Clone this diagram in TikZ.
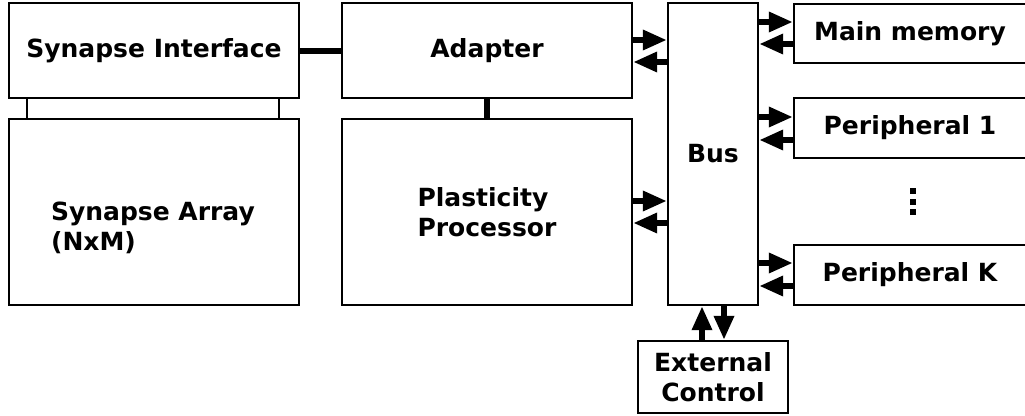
\documentclass[tikz,border=0pt]{standalone}
\usepackage{fontspec}
\setmainfont{DejaVu Sans}
\usetikzlibrary{arrows.meta}
\begin{document}
\begin{tikzpicture}[x=1pt,y=-1pt,
  box/.style={draw, line width=2.2pt, inner sep=0pt, align=left,
    font=\bfseries\fontsize{25}{29.5}\selectfont},
  txt/.style={inner sep=0pt, align=left, font=\bfseries\fontsize{25}{29.5}\selectfont},
  link/.style={line width=6pt},
  thin/.style={line width=2.2pt},
  arr/.style={line width=6.5pt, -{Triangle[length=24pt,width=19pt]}},
  dot/.style={fill=black, minimum size=6pt, inner sep=0pt}]
\useasboundingbox (0,0) rectangle (1025,415);

% left column
\node[box, minimum width=290pt, minimum height=95pt] (si) at (154,50.5) {Synapse Interface};
\node[box, minimum width=290pt, minimum height=186pt] (sa) at (154,212) {};
\node[txt] (satext) at (153,228) {Synapse Array\\(NxM)};

% middle column
\node[box, minimum width=290pt, minimum height=95pt] (ad) at (487,50.5) {Adapter};
\node[box, minimum width=290pt, minimum height=186pt] (pp) at (487,212) {Plasticity\\Processor};

% bus
\node[box, minimum width=90pt, minimum height=302pt] (bus) at (713,154) {Bus};

% right column
\node[box, minimum width=232pt, minimum height=59pt] (mm) at (910,33.5) {Main memory};
\node[box, minimum width=232pt, minimum height=60pt] (p1) at (910,128) {Peripheral 1};
\node[box, minimum width=232pt, minimum height=60pt] (pk) at (910,275) {Peripheral K};
\node[dot] (d1) at (913,191) {};
\node[dot] (d2) at (913,202) {};
\node[dot] (d3) at (913,212) {};

% external control
\node[box, minimum width=150pt, minimum height=72pt, align=center] (ec) at (713,377) {External\\Control};

% plain links
\draw[link] (si.east) -- (ad.west);
\draw[link] (ad.south) -- (pp.north);
\draw[thin] ([xshift=19pt]si.south west) -- ([xshift=19pt]sa.north west);
\draw[thin] ([xshift=-21pt]si.south east) -- ([xshift=-21pt]sa.north east);

% adapter <-> bus
\coordinate (a1) at ([yshift=10.5pt]ad.east);
\coordinate (a2) at ([yshift=-11.5pt]ad.east);
\draw[arr] (a1) -- (a1 -| bus.west);
\draw[arr] (a2 -| bus.west) -- (a2);

% plasticity processor <-> bus
\coordinate (b1) at ([yshift=11pt]pp.east);
\coordinate (b2) at ([yshift=-11pt]pp.east);
\draw[arr] (b1) -- (b1 -| bus.west);
\draw[arr] (b2 -| bus.west) -- (b2);

% bus <-> memory and peripherals
\coordinate (m1) at ([yshift=11.5pt]mm.west);
\coordinate (m2) at ([yshift=-10.5pt]mm.west);
\draw[arr] (m1 -| bus.east) -- (m1);
\draw[arr] (m2) -- (m2 -| bus.east);

\coordinate (q1) at ([yshift=11pt]p1.west);
\coordinate (q2) at ([yshift=-12pt]p1.west);
\draw[arr] (q1 -| bus.east) -- (q1);
\draw[arr] (q2) -- (q2 -| bus.east);

\coordinate (k1) at ([yshift=12pt]pk.west);
\coordinate (k2) at ([yshift=-11pt]pk.west);
\draw[arr] (k1 -| bus.east) -- (k1);
\draw[arr] (k2) -- (k2 -| bus.east);

% bus <-> external control
\coordinate (e1) at ([xshift=-11pt]ec.north);
\coordinate (e2) at ([xshift=11pt]ec.north);
\draw[arr] (e1) -- (e1 |- bus.south);
\draw[arr] (e2 |- bus.south) -- (e2);
\end{tikzpicture}
\end{document}
